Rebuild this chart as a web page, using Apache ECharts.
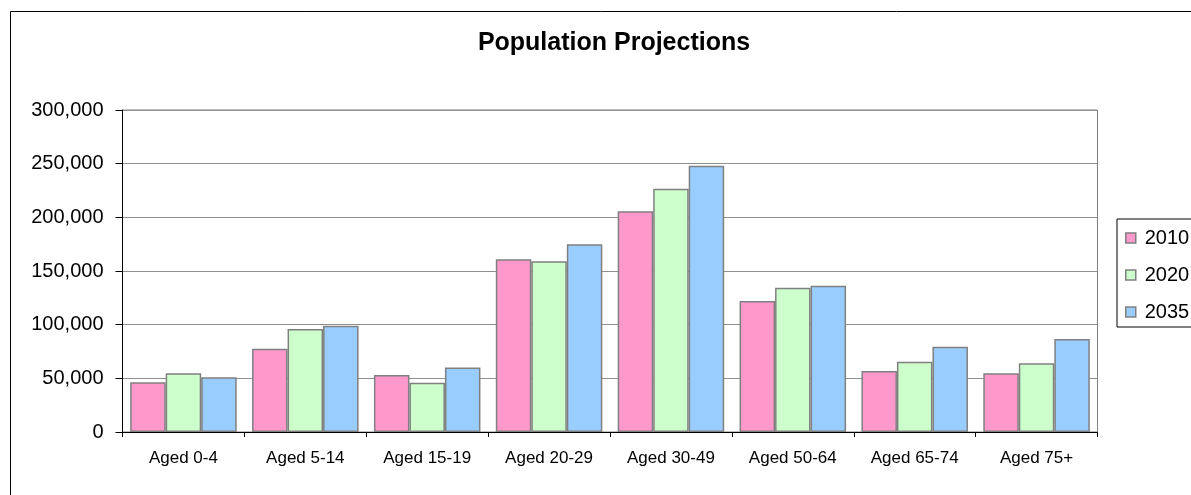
<!DOCTYPE html>
<html>
<head>
<meta charset="utf-8">
<script src="https://cdn.jsdelivr.net/npm/echarts@6/dist/echarts.min.js"></script>
<style>
  html, body { margin: 0; padding: 0; background: #fff; }
  #chart { width: 1191px; height: 495px; }
</style>
</head>
<body>
<div id="chart"></div>
<script>
// Age groups along the horizontal axis
const categories = ['Aged 0-4', 'Aged 5-14', 'Aged 15-19', 'Aged 20-29', 'Aged 30-49', 'Aged 50-64', 'Aged 65-74', 'Aged 75+'];

// Projected population per age group
const pop2010 = [46300, 77600, 53000, 161000, 205600, 122000, 56800, 54700];
const pop2020 = [54700, 96000, 46000, 159000, 226700, 134500, 65500, 64000];
const pop2035 = [51000, 99000, 60000, 175000, 248000, 136300, 79500, 86600];

const seriesNames = ['2010', '2020', '2035'];
const seriesColors = ['#FF99CC', '#CCFFCC', '#99CCFF'];

const FONT = '"Liberation Sans", Arial, sans-serif';

const chart = echarts.init(document.getElementById('chart'), null, { renderer: 'canvas' });

function barSeries(name, data, color) {
  return {
    name: name,
    type: 'bar',
    data: data,
    barGap: '0%',
    barCategoryGap: '12.6%',
    itemStyle: { color: color, borderColor: '#808080', borderWidth: 1.5 },
    emphasis: { disabled: true }
  };
}

chart.setOption({
  animation: false,
  backgroundColor: '#ffffff',
  title: {
    text: 'Population Projections',
    left: 609,
    textAlign: 'center',
    top: 26,
    textStyle: { fontFamily: FONT, fontSize: 25, fontWeight: 'bold', color: '#000' }
  },
  graphic: [
    {
      type: 'rect',
      shape: { x: 10.5, y: 11.5, width: 1300, height: 600 },
      style: { fill: 'none', stroke: '#000', lineWidth: 1 },
      silent: true,
      z: 0
    }
  ],
  legend: {
    orient: 'vertical',
    left: 1117,
    top: 219,
    padding: [9, 20, 5, 8],
    itemGap: 17,
    itemWidth: 10,
    itemHeight: 10,
    icon: 'rect',
    borderColor: '#000',
    borderWidth: 1,
    data: seriesNames,
    itemStyle: { borderColor: '#808080', borderWidth: 1.5 },
    textStyle: { fontFamily: FONT, fontSize: 20, color: '#000', padding: [0, 0, 0, 4] }
  },
  grid: {
    left: 122.5,
    right: 93.5,
    top: 110,
    bottom: 63,
    show: true,
    borderColor: '#808080',
    borderWidth: 1
  },
  xAxis: {
    type: 'category',
    data: categories,
    axisLine: { lineStyle: { color: '#000', width: 1 } },
    axisTick: { show: true, length: 5, lineStyle: { color: '#000' } },
    axisLabel: { fontFamily: FONT, fontSize: 17, color: '#000', margin: 18 },
    splitLine: { show: false }
  },
  yAxis: {
    type: 'value',
    min: 0,
    max: 300000,
    interval: 50000,
    axisLine: { show: true, lineStyle: { color: '#000', width: 1 } },
    axisTick: { show: true, length: 7, lineStyle: { color: '#000' } },
    axisLabel: {
      fontFamily: FONT,
      fontSize: 20,
      color: '#000',
      margin: 19,
      formatter: v => v.toLocaleString('en-US')
    },
    splitLine: { show: true, lineStyle: { color: '#909090', width: 1 } }
  },
  series: [
    barSeries(seriesNames[0], pop2010, seriesColors[0]),
    barSeries(seriesNames[1], pop2020, seriesColors[1]),
    barSeries(seriesNames[2], pop2035, seriesColors[2])
  ]
});
</script>
</body>
</html>
